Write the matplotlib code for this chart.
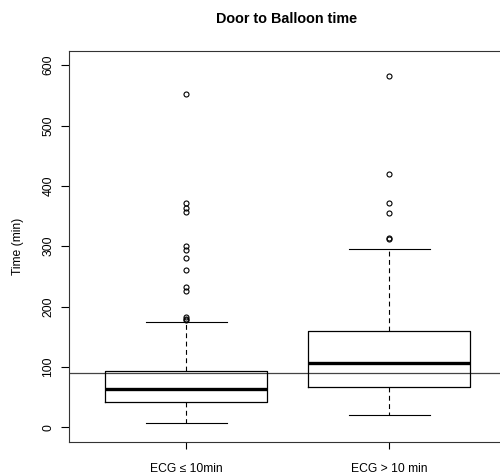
import matplotlib
matplotlib.use("Agg")
import matplotlib.pyplot as plt

# box statistics (minutes)
groups = ["ECG \u2264 10min", "ECG > 10 min"]
whisker_lo = [7, 20]
q1 = [41, 66]
median = [63, 107]
q3 = [93, 160]
whisker_hi = [174, 295]
outliers_1 = [553, 371, 364, 356, 301, 294, 280, 261, 232, 225, 182, 179, 177]
outliers_2 = [582, 419, 371, 355, 314, 312]
ref_time = 90
y_ticks = [0, 100, 200, 300, 400, 500, 600]


def main():
    plt.rcParams["font.family"] = ["Liberation Sans", "DejaVu Sans"]
    plt.rcParams["lines.scale_dashes"] = False
    fig = plt.figure(figsize=(5.0, 4.74), dpi=100)
    ax = fig.add_axes([0.138, 0.0681, 0.875, 0.825])

    stats = []
    for i, fl in enumerate([outliers_1, outliers_2]):
        stats.append(dict(whislo=whisker_lo[i], q1=q1[i], med=median[i],
                          q3=q3[i], whishi=whisker_hi[i], fliers=fl))

    ax.bxp(stats, positions=[1, 2], widths=0.8, capwidths=0.4,
           boxprops=dict(color="black", linewidth=0.9),
           medianprops=dict(color="black", linewidth=2.4),
           whiskerprops=dict(color="black", linewidth=0.8, linestyle=(0, (3.5, 2.5))),
           capprops=dict(color="black", linewidth=0.8),
           flierprops=dict(marker="o", markerfacecolor="none", markeredgecolor="black",
                           markersize=3.6, markeredgewidth=0.8))

    # reference line at 90 min
    ax.axhline(ref_time, color="#444444", linewidth=0.9, zorder=0)

    ax.set_xlim(0.42, 2.58)
    ax.set_ylim(-24, 624)
    ax.set_xticks([1, 2])
    ax.set_xticklabels(groups, fontsize=8.7)
    ax.set_yticks(y_ticks)
    ax.set_yticklabels([str(v) for v in y_ticks], fontsize=8.7, rotation=90, va="center")
    ax.tick_params(axis="x", length=5, width=0.8, pad=10)
    ax.tick_params(axis="y", length=5.5, width=0.8, pad=5)
    for sp in ax.spines.values():
        sp.set_linewidth(0.8)
        sp.set_color("#333333")

    fig.text(0.036, 0.0681 + 0.825 / 2, "Time (min)", fontsize=8.7, rotation=90,
             ha="center", va="center")
    fig.text(0.574, 0.96, "Door to Balloon time", fontsize=10.4, fontweight="bold",
             ha="center", va="center")

    fig.savefig("out.png", dpi=100)


if __name__ == '__main__':
    main()
